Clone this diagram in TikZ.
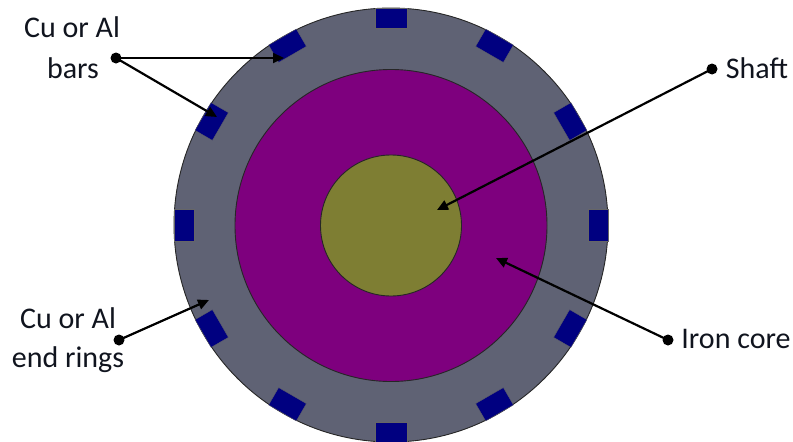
\documentclass[tikz,border=0pt]{standalone}
\usepackage{fontspec}
\setmainfont{Carlito}
\usetikzlibrary{arrows.meta}
\definecolor{ringgray}{HTML}{5F6274}
\definecolor{corepurple}{HTML}{7E007E}
\definecolor{shaftolive}{HTML}{7E7E33}
\definecolor{barnavy}{HTML}{000080}
\definecolor{labelink}{HTML}{10141E}
\tikzset{
  disc/.style={circle,draw=black!85,line width=0.9pt,inner sep=0pt,minimum size=#1},
  barbox/.style={fill=barnavy,draw=black!60,line width=0.3pt},
  dot/.style={circle,fill=black,inner sep=0pt,minimum size=11pt},
  pointer/.style={line width=2.2pt,-{Triangle[length=11pt,width=10pt]},shorten <=-2pt},
  lbl/.style={font=\fontsize{30}{30}\selectfont,text=labelink,inner sep=0pt,anchor=center}
}
\begin{document}
\begin{tikzpicture}[x=1pt,y=-1pt]
\useasboundingbox (0,0) rectangle (793,442);
\node[disc=434pt,fill=ringgray] (outer) at (391,225) {};
\foreach \a in {0,30,...,330}{
  \begin{scope}[shift={(391,225)},rotate=\a]
    \filldraw[barbox] (-16,-217) rectangle (16,-197);
  \end{scope}
}
\node[disc=312pt,fill=corepurple] (core) at (391,225.5) {};
\node[disc=141pt,fill=shaftolive] (shaft) at (391,225.5) {};
\node[lbl] (t1) at (72,27) {Cu or Al};
\node[lbl] (t2) at (73,68) {bars};
\node[lbl] (t3) at (68,318) {Cu or Al};
\node[lbl] (t4) at (68,360) {end rings};
\node[lbl] (t5) at (757,68) {Shaft};
\node[lbl] (t6) at (736,339) {Iron core};
\node[dot] (d1) at (116,58) {};
\node[dot] (d2) at (119,340) {};
\node[dot] (d3) at (712,69) {};
\node[dot] (d4) at (668,340) {};
\coordinate (e1) at (284,58);
\coordinate (e2) at (217,117);
\coordinate (e3) at (209,300);
\coordinate (e4) at (437,210);
\coordinate (e5) at (496,258);
\draw[pointer] (d1.center) -- (e1);
\draw[pointer] (d1.center) -- (e2);
\draw[pointer] (d2.center) -- (e3);
\draw[pointer] (d3.center) -- (e4);
\draw[pointer] (d4.center) -- (e5);
\end{tikzpicture}
\end{document}
